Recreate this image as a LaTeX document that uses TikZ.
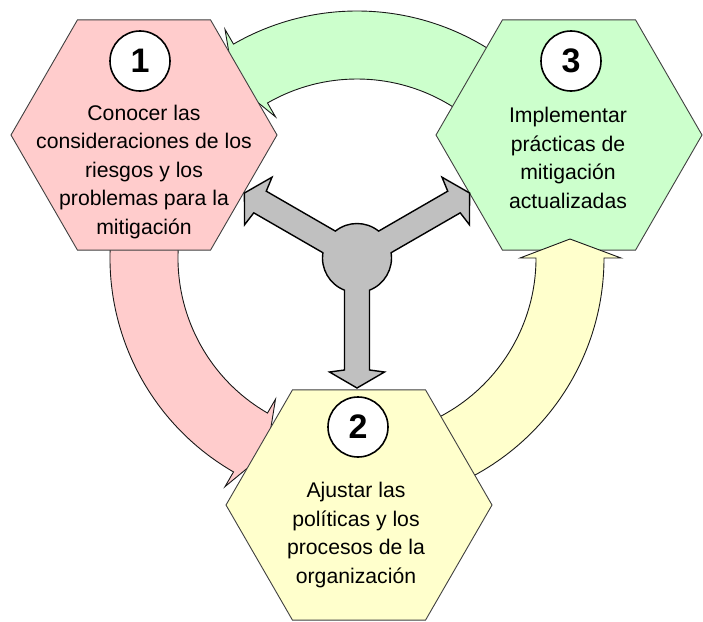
\documentclass[tikz,border=0pt]{standalone}
\usepackage{fontspec}
\setmainfont{Liberation Sans}
\usetikzlibrary{calc}
\definecolor{pinkfill}{RGB}{255,204,204}
\definecolor{greenfill}{RGB}{204,255,204}
\definecolor{yellowfill}{RGB}{255,255,204}
\definecolor{grayfill}{RGB}{192,192,192}
\newcommand\myringarrow[3]{%
  \draw[ringarrow, fill=#1] ($(C)+(#2:247)$) arc[start angle=#2, end angle=#3, radius=247]
    -- ($(C)+(#3:264)$) -- ($(C)+(#3:213)+(#3+90:19)$) -- ($(C)+(#3:163)$)
    -- ($(C)+(#3:179)$) arc[start angle=#3, end angle=#2, radius=179] -- cycle;}
\newcommand\myhex[2]{%
  \draw[hexa, fill=#2] (#1) ++(0:133) -- ++(120:133) -- ++(180:133) -- ++(240:133)
    -- ++(300:133) -- ++(0:133) -- cycle;}
\begin{document}
\begin{tikzpicture}[x=1pt,y=1pt,
  hexa/.style={draw=black!75, line width=0.9pt, line join=miter},
  ringarrow/.style={draw=black!90, line width=0.9pt, line join=miter},
  grayarrow/.style={draw=black, fill=grayfill, line width=1.4pt, line join=miter},
  numcirc/.style={circle, draw=black, line width=1.6pt, fill=white, minimum size=60pt,
    inner sep=0pt, font=\fontsize{34}{34}\selectfont\bfseries},
  txt/.style={align=center, font=\fontsize{21.2}{28.5}\selectfont, inner sep=0pt}]
\useasboundingbox (0,0) rectangle (703,-621);
\coordinate (C) at (357,-258);
\coordinate (H1) at (144,-135);
\coordinate (H3) at (569,-135);
\coordinate (H2) at (359,-505);
% ring arrows and hexagons, in layer order
\myringarrow{greenfill}{15}{120}
\myringarrow{pinkfill}{160}{240}
\myhex{H1}{pinkfill}
\myhex{H3}{greenfill}
\myringarrow{yellowfill}{275}{360}
\myhex{H2}{yellowfill}
% central three-way arrow
\draw[grayarrow] ($(C)+(8.8:34.5)$)
  -- ($(C)+(30:112)+(-60:12.5)$) -- ($(C)+(30:114)+(-60:27.5)$) -- ($(C)+(30:130)$)
  -- ($(C)+(30:114)+(120:27.5)$) -- ($(C)+(30:112)+(120:12.5)$)
  -- ($(C)+(51.2:34.5)$) arc[start angle=51.2, end angle=128.8, radius=34.5]
  -- ($(C)+(150:112)+(60:12.5)$) -- ($(C)+(150:114)+(60:27.5)$) -- ($(C)+(150:130)$)
  -- ($(C)+(150:114)+(240:27.5)$) -- ($(C)+(150:112)+(240:12.5)$)
  -- ($(C)+(171.2:34.5)$) arc[start angle=171.2, end angle=248.8, radius=34.5]
  -- ($(C)+(270:112)+(180:12.5)$) -- ($(C)+(270:114)+(180:27.5)$) -- ($(C)+(270:130)$)
  -- ($(C)+(270:114)+(0:27.5)$) -- ($(C)+(270:112)+(0:12.5)$)
  -- ($(C)+(291.2:34.5)$) arc[start angle=291.2, end angle=368.8, radius=34.5] -- cycle;
% numbers
\node[numcirc] (n1) at (140,-61) {1};
\node[numcirc] (n3) at (571,-61) {3};
\node[numcirc] (n2) at (358,-427) {2};
% texts
\node[txt] (t1) at (144,-172) {Conocer las\\consideraciones de los\\riesgos y los\\problemas para la\\mitigación};
\node[txt] (t3) at (568,-158) {Implementar\\prácticas de\\mitigación\\actualizadas};
\node[txt] (t2) at (356,-535) {Ajustar las\\políticas y los\\procesos de la\\organización};
\end{tikzpicture}
\end{document}
